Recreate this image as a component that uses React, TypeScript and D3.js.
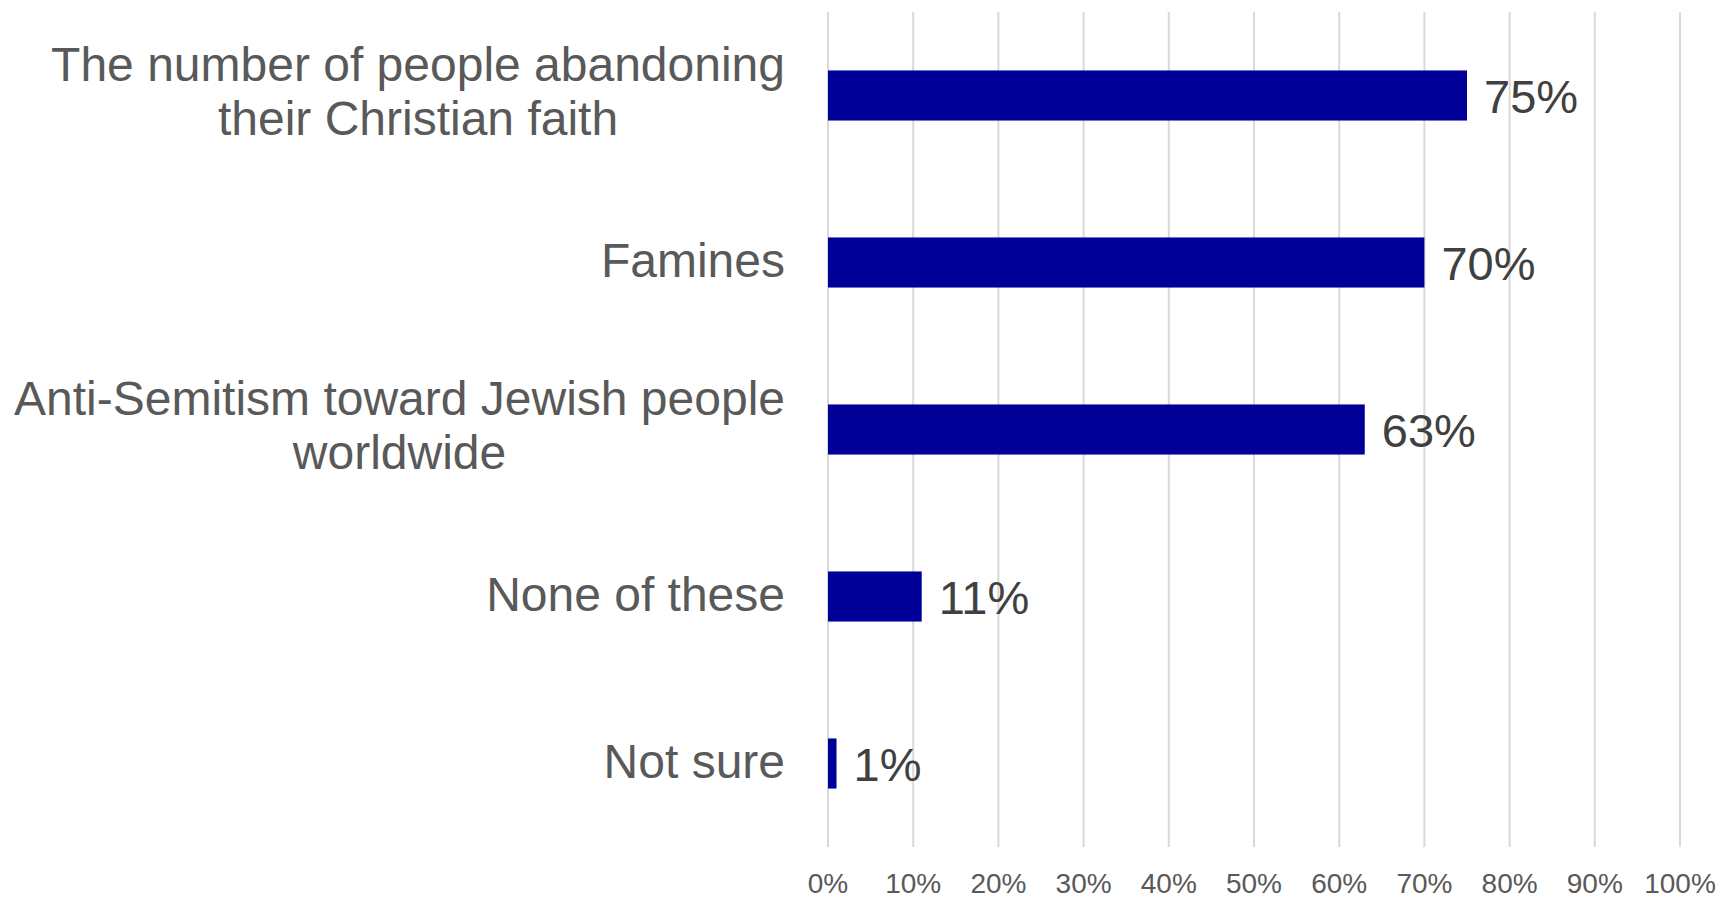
import React, { useEffect, useRef } from "react";
import * as d3 from "d3";

const categories: string[][] = [
  ["The number of people abandoning", "their Christian faith"],
  ["Famines"],
  ["Anti-Semitism toward Jewish people", "worldwide"],
  ["None of these"],
  ["Not sure"],
];
const values: number[] = [75, 70, 63, 11, 1];
const tickValues: number[] = [0, 10, 20, 30, 40, 50, 60, 70, 80, 90, 100];

const W = 1723;
const H = 899;
const FONT = "'Liberation Sans', Arial, Helvetica, sans-serif";

export default function App() {
  const ref = useRef<SVGSVGElement | null>(null);

  useEffect(() => {
    const svg = d3.select(ref.current);
    svg.selectAll("*").remove();

    const left = 828;
    const right = 1680;
    const top = 12;
    const bottom = 847;

    const x = d3.scaleLinear().domain([0, 100]).range([left, right]);
    const y = d3
      .scaleBand<number>()
      .domain(d3.range(categories.length))
      .range([top, bottom])
      .paddingInner(0.7)
      .paddingOuter(0.35);

    // gridlines
    svg
      .append("g")
      .selectAll("line")
      .data(tickValues)
      .join("line")
      .attr("x1", (d) => x(d))
      .attr("x2", (d) => x(d))
      .attr("y1", top)
      .attr("y2", bottom)
      .attr("stroke", "#d9d9d9")
      .attr("stroke-width", 2);

    // tick labels
    svg
      .append("g")
      .selectAll("text")
      .data(tickValues)
      .join("text")
      .attr("x", (d) => x(d))
      .attr("y", 893)
      .attr("text-anchor", "middle")
      .attr("font-family", FONT)
      .attr("font-size", 28)
      .attr("fill", "#595959")
      .text((d) => `${d}%`);

    // bars
    svg
      .append("g")
      .selectAll("rect")
      .data(values)
      .join("rect")
      .attr("x", x(0))
      .attr("y", (_, i) => y(i)!)
      .attr("width", (d) => x(d) - x(0))
      .attr("height", y.bandwidth())
      .attr("fill", "#000099");

    // value labels
    svg
      .append("g")
      .selectAll("text")
      .data(values)
      .join("text")
      .attr("x", (d) => x(d) + 17)
      .attr("y", (_, i) => y(i)! + y.bandwidth() / 2 + 17)
      .attr("font-family", FONT)
      .attr("font-size", 47)
      .attr("fill", "#404040")
      .text((d) => `${d}%`);

    // category labels
    const labelRight = 785;
    const lineH = 54;
    categories.forEach((lines, i) => {
      const g = svg.append("g");
      const texts = g
        .selectAll("text")
        .data(lines)
        .join("text")
        .attr("font-family", FONT)
        .attr("font-size", 48)
        .attr("fill", "#595959")
        .attr("text-anchor", "middle")
        .text((d) => d);
      let maxW = 0;
      texts.each(function () {
        const w = (this as SVGTextElement).getComputedTextLength();
        if (w > maxW) maxW = w;
      });
      const cx = labelRight - maxW / 2;
      const cy = y(i)! + y.bandwidth() / 2;
      const n = lines.length;
      texts
        .attr("x", cx)
        .attr("y", (_, k) => cy + (n > 1 ? 12 : 14) + (k - (n - 1) / 2) * lineH);
    });
  }, []);

  return (
    <svg
      ref={ref}
      width={W}
      height={H}
      style={{ position: "absolute", left: 0, top: 0, background: "#fff" }}
    />
  );
}
